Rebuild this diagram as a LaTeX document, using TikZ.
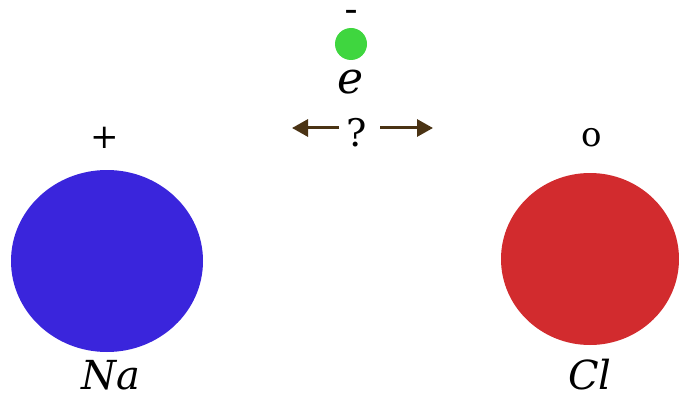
\documentclass[tikz,border=0pt]{standalone}
\usepackage{fontspec}
\setmainfont{DejaVu Serif}
\usetikzlibrary{arrows.meta}
\definecolor{nablue}{HTML}{3A25DC}
\definecolor{clred}{HTML}{D22B2E}
\definecolor{egreen}{HTML}{3FD63F}
\definecolor{arrbrown}{HTML}{4A3314}
\tikzset{
  lbl/.style={inner sep=0pt, font=\fontsize{34}{36}\selectfont},
  biglbl/.style={inner sep=0pt, font=\fontsize{40}{44}\selectfont\itshape},
  arr/.style={draw=arrbrown, line width=3pt, -{Triangle[length=16pt,width=17pt]}}
}
\begin{document}
\begin{tikzpicture}[x=1pt,y=-1pt]
\useasboundingbox (0,0) rectangle (679,398);
\fill[nablue] (107,261) ellipse [x radius=96, y radius=91];
\fill[clred] (590,259) ellipse [x radius=89, y radius=86];
\fill[egreen] (351,44) circle (16);
\node[inner sep=0pt, font=\fontsize{25}{27}\selectfont\bfseries] (minus) at (351,14) {–};
\node[inner sep=0pt, font=\fontsize{44}{46}\selectfont\itshape] (e) at (351,82) {e};
\node[inner sep=0pt, font=\fontsize{38}{40}\selectfont] (q) at (357,133) {?};
\coordinate (lt) at (339,128);
\coordinate (la) at (292,128);
\coordinate (rt) at (380,128);
\coordinate (ra) at (433,128);
\draw[arr] (lt) -- (la);
\draw[arr] (rt) -- (ra);
\node[lbl] (plus) at (105,138) {+};
\node[lbl] (zero) at (592,138) {o};
\node[biglbl] (na) at (111,375) {Na};
\node[biglbl] (cl) at (590,375) {Cl};
\end{tikzpicture}
\end{document}
